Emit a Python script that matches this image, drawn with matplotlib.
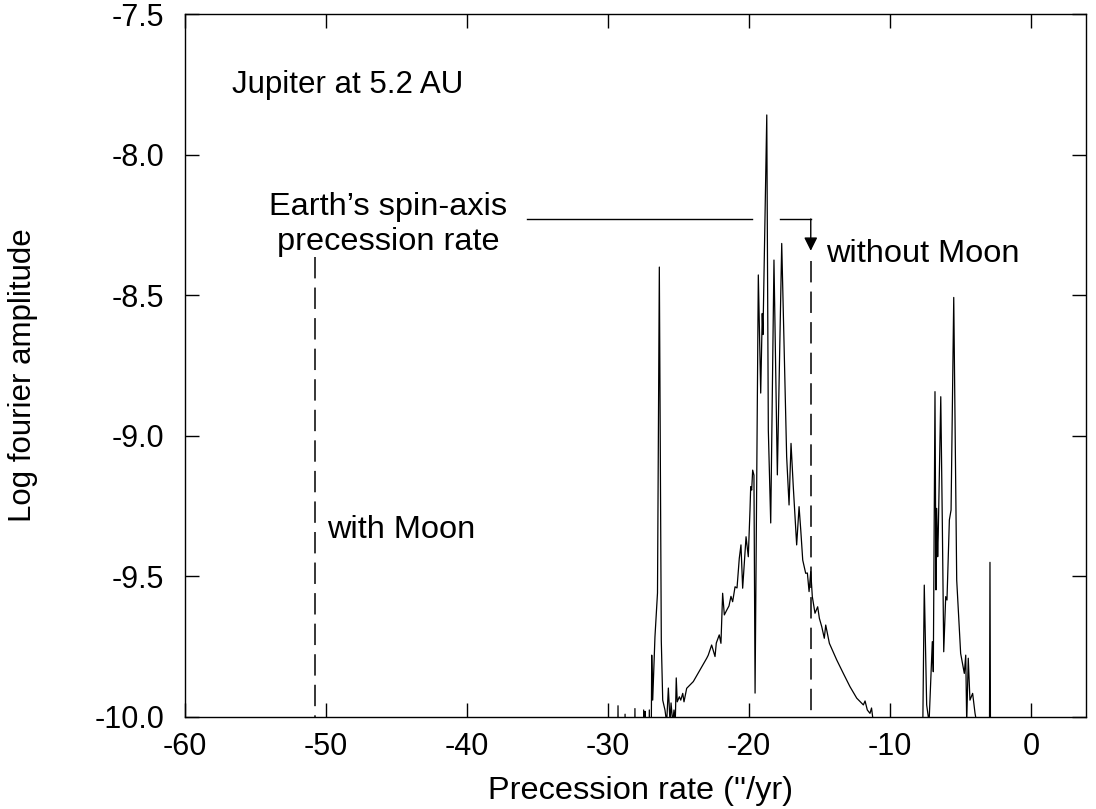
import matplotlib
matplotlib.use("Agg")
import matplotlib.pyplot as plt

plt.rcParams['font.family'] = ['Liberation Sans', 'DejaVu Sans']
plt.rcParams['axes.unicode_minus'] = False

# Fourier spectrum of the obliquity forcing, Jupiter at 5.2 AU
rate = [-32.0,
        -29.34, -29.29, -29.24,
        -28.84, -28.79, -28.74,
        -28.14, -28.09, -28.04,
        -27.52, -27.47, -27.42,
        -27.40, -27.37, -27.33,
        -27.12, -27.07, -27.02,
        -26.93, -26.90, -26.83, -26.67, -26.49, -26.36, -26.22, -26.12,
        -25.96, -25.84, -25.72, -25.60, -25.53, -25.41, -25.32, -25.23,
        -25.16, -25.09, -24.94, -24.84, -24.70, -24.61, -24.42, -23.95,
        -23.48, -23.00, -22.89, -22.65, -22.41, -22.32, -22.11, -21.99,
        -21.87, -21.75, -21.58, -21.42, -21.28, -21.16, -20.99, -20.85,
        -20.69, -20.57, -20.45, -20.21, -20.05, -19.93, -19.88, -19.81,
        -19.74, -19.65, -19.57, -19.34, -19.17, -19.06, -19.01, -18.74,
        -18.63, -18.46, -18.23, -17.99, -17.68, -17.33, -17.16, -17.02,
        -16.86, -16.62, -16.45, -16.33, -16.19, -15.98, -15.86, -15.74,
        -15.62, -15.51, -15.32, -15.13, -15.01, -14.84, -14.66, -14.56,
        -14.30, -13.78, -13.31, -12.84, -12.36, -11.89, -11.77, -11.61,
        -11.42, -11.31, -11.18, -10.70,
        -7.73, -7.57, -7.40, -7.23, -7.00, -6.93, -6.81, -6.74, -6.69,
        -6.62, -6.58, -6.40, -6.29, -6.19, -6.05, -5.96, -5.79, -5.67,
        -5.48, -5.27, -4.99, -4.73, -4.63, -4.56, -4.45, -4.33, -4.14,
        -3.97, -3.85,
        -2.96, -2.91, -2.86,
        3.9]
amp = [-10.3,
       -10.3, -9.96, -10.3,
       -10.3, -9.99, -10.3,
       -10.3, -9.97, -10.3,
       -10.3, -9.975, -10.3,
       -10.3, -9.98, -10.3,
       -10.3, -9.975, -10.3,
       -10.05, -9.78, -9.94, -9.715, -9.559, -8.40, -9.73, -9.94,
       -9.975, -10.02, -9.897, -10.02, -9.95, -10.02, -9.975, -10.02,
       -9.861, -9.946, -9.928, -9.94, -9.916, -9.946, -9.898, -9.874,
       -9.833, -9.791, -9.78, -9.744, -9.785, -9.737, -9.708, -9.738,
       -9.56, -9.637, -9.62, -9.605, -9.571, -9.59, -9.537, -9.541,
       -9.436, -9.388, -9.542, -9.359, -9.43, -9.264, -9.181, -9.193,
       -9.122, -9.14, -9.915, -8.428, -8.848, -8.565, -8.64, -7.859,
       -8.98, -9.31, -8.375, -9.139, -8.316, -9.074, -9.246, -9.027,
       -9.181, -9.388, -9.252, -9.335, -9.442, -9.489, -9.488, -9.554,
       -9.483, -9.572, -9.631, -9.608, -9.649, -9.679, -9.72, -9.673,
       -9.738, -9.797, -9.845, -9.892, -9.933, -9.957, -9.943, -9.975,
       -9.987, -9.968, -10.02, -10.3,
       -10.3, -9.531, -9.957, -10.02, -9.732, -9.839, -8.843, -9.548, -9.258,
       -9.43, -9.353, -8.861, -9.311, -9.768, -9.572, -9.584, -9.299, -9.264,
       -8.508, -9.513, -9.774, -9.845, -9.78, -10.02, -9.791, -9.94, -9.916,
       -9.987, -10.02,
       -10.3, -9.45, -10.3,
       -10.3]

# Earth's spin-axis precession rates
with_moon = -50.75
without_moon = -15.62

x_ticks = [-60, -50, -40, -30, -20, -10, 0]
y_ticks = [-10.0, -9.5, -9.0, -8.5, -8.0, -7.5]

fig = plt.figure(figsize=(10.96, 8.09), dpi=100)
ax = fig.add_axes([185 / 1096, 1 - 717 / 809, 901 / 1096, 703 / 809])

ax.plot(rate, amp, color='black', lw=0.9)

# dashed markers drawn top-down so the top ends on a dash
ax.plot([with_moon, with_moon], [-8.365, -10.0], color='black', lw=1.1,
        dashes=(14, 6))
ax.plot([without_moon, without_moon], [-8.38, -10.0], color='black', lw=1.1,
        dashes=(14, 6))

# label line pointing to the no-Moon rate (broken where the peak crosses it)
ax.plot([-35.74, -19.79], [-8.229, -8.229], color='black', lw=1.0)
ax.plot([-17.80, without_moon], [-8.229, -8.229], color='black', lw=1.0)
ax.annotate('', xy=(without_moon, -8.342), xytext=(without_moon, -8.229),
            arrowprops=dict(arrowstyle='-|>', color='black', lw=1.0,
                            mutation_scale=20, shrinkA=0, shrinkB=0))

fs = 23.4
ax.text(-56.67, -7.781, 'Jupiter at 5.2 AU', fontsize=22.5, ha='left', va='baseline')
ax.text(-45.6, -8.215, 'Earth\u2019s spin-axis', fontsize=fs, ha='center', va='baseline')
ax.text(-45.6, -8.339, 'precession rate', fontsize=fs, ha='center', va='baseline')
ax.text(-14.54, -8.382, 'without Moon', fontsize=fs, ha='left', va='baseline')
ax.text(-49.93, -9.363, 'with Moon', fontsize=fs, ha='left', va='baseline')

ax.set_xlim(-60, 3.9)
ax.set_ylim(-10.0, -7.5)
ax.set_xticks(x_ticks)
ax.set_yticks(y_ticks)
ax.set_xticklabels([str(v) for v in x_ticks])
ax.set_yticklabels(['%.1f' % v for v in y_ticks])

ax.tick_params(direction='in', length=10, width=1.0, top=True, right=True,
               labelsize=22)
ax.tick_params(axis='x', pad=11)
ax.tick_params(axis='y', pad=15)
for s in ax.spines.values():
    s.set_linewidth(1.0)

ax.set_xlabel("Precession rate (''/yr)", fontsize=fs)
ax.set_ylabel('Log fourier amplitude', fontsize=22.5)
ax.xaxis.set_label_coords(0.505, -0.084)
ax.yaxis.set_label_coords(-0.163, 0.487)

fig.savefig('out.png', dpi=100)
